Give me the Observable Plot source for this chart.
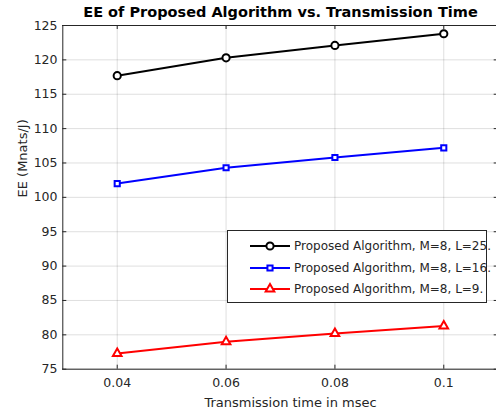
<!DOCTYPE html>
<html>
<head>
<meta charset="utf-8">
<script src="https://cdn.jsdelivr.net/npm/d3@7"></script>
<script src="https://cdn.jsdelivr.net/npm/@observablehq/plot@0.6"></script>
<style>
  html, body { margin: 0; padding: 0; background: #fff; }
  #wrap { position: relative; width: 496px; height: 413px; overflow: hidden; font-family: "DejaVu Sans", sans-serif; }
  #legend { position: absolute; left: 227px; top: 230px; width: 258px; height: 71px; border: 1px solid #262626; background: #fff; box-sizing: content-box; }
  .row { position: absolute; left: 0; height: 20px; display: flex; align-items: center; font-size: 12px; color: #262626; white-space: nowrap; }
  .row svg { margin-left: 22px; margin-right: 4px; }
</style>
</head>
<body>
<div id="wrap"><div id="chart"></div><div id="legend"></div></div>
<script>
const times = [0.04, 0.06, 0.08, 0.1];
const seriesNames = ["Proposed Algorithm, M=8, L=25.", "Proposed Algorithm, M=8, L=16.", "Proposed Algorithm, M=8, L=9."];
const eeL25 = [117.7, 120.3, 122.1, 123.8];
const eeL16 = [102.0, 104.3, 105.8, 107.2];
const eeL9 = [77.3, 79.0, 80.2, 81.3];
const xTicks = [0.04, 0.06, 0.08, 0.1];
const yTicks = [75, 80, 85, 90, 95, 100, 105, 110, 115, 120, 125];
const colors = ["#000000", "#0000ff", "#ff0000"];
const symbols = ["circle", "square", "triangle"];
const radii = [3.6, 2.9, 3.2];

const seriesValues = [eeL25, eeL16, eeL9];
const data = [];
seriesValues.forEach((vals, s) => vals.forEach((v, i) => data.push({t: times[i], ee: v, s})));

const axisColor = "#262626";
const marks = [
  Plot.gridX(xTicks, {stroke: "#000", strokeOpacity: 0.13}),
  Plot.gridY(yTicks, {stroke: "#000", strokeOpacity: 0.13}),
  // box
  Plot.ruleX([0.03, 0.11], {stroke: axisColor, strokeWidth: 1}),
  Plot.ruleY([75, 125], {stroke: axisColor, strokeWidth: 1}),
  // inward ticks
  Plot.ruleX(xTicks, {y1: 75, y2: 75, insetTop: -4, stroke: axisColor}),
  Plot.ruleX(xTicks, {y1: 125, y2: 125, insetBottom: -4, stroke: axisColor}),
  Plot.ruleY(yTicks, {x1: 0.03, x2: 0.03, insetRight: -4, stroke: axisColor}),
  Plot.ruleY(yTicks, {x1: 0.11, x2: 0.11, insetLeft: -4, stroke: axisColor}),
  Plot.axisX(xTicks, {tickSize: 0, tickPadding: 9, tickFormat: d => String(d), fontSize: 12.5, color: axisColor, label: null}),
  Plot.axisY(yTicks, {tickSize: 0, tickPadding: 5, tickFormat: d => String(d), fontSize: 12.5, color: axisColor, label: null}),
];
seriesValues.forEach((vals, s) => {
  const d = data.filter(o => o.s === s);
  marks.push(Plot.line(d, {x: "t", y: "ee", stroke: colors[s], strokeWidth: 2}));
  marks.push(Plot.dot(d, {x: "t", y: "ee", symbol: () => symbols[s], r: radii[s], stroke: colors[s], fill: "#fff", strokeWidth: 2}));
});
marks.push(Plot.text(["EE of Proposed Algorithm vs. Transmission Time"], {frameAnchor: "top", text: d => d, dy: -13, dx: 1, fontWeight: "bold", fontSize: 14.5, fill: "#000", lineAnchor: "middle"}));
marks.push(Plot.text(["Transmission time in msec"], {frameAnchor: "bottom", text: d => d, dy: 33, dx: 11, fontSize: 13, fill: axisColor, lineAnchor: "middle"}));
marks.push(Plot.text(["EE (Mnats/J)"], {frameAnchor: "left", text: d => d, dx: -40, rotate: -90, fontSize: 13, fill: axisColor, lineAnchor: "middle"}));

const chart = Plot.plot({
  width: 496,
  height: 413,
  marginLeft: 62,
  marginRight: 0,
  marginTop: 25,
  marginBottom: 44,
  style: {fontFamily: "DejaVu Sans, sans-serif", background: "#fff", overflow: "hidden"},
  x: {domain: [0.03, 0.11], range: [62.3, 497.7]},
  y: {domain: [75, 125], range: [368.7, 25]},
  symbol: {type: "identity"},
  marks
});
document.getElementById("chart").appendChild(chart);

// legend
const legend = document.getElementById("legend");
const rowTops = [5, 27, 48];
seriesNames.forEach((name, s) => {
  const row = document.createElement("div");
  row.className = "row";
  row.style.top = rowTops[s] + "px";
  const sym = d3.symbol(d3["symbol" + symbols[s][0].toUpperCase() + symbols[s].slice(1)], radii[s] * radii[s] * Math.PI)();
  row.innerHTML = `<svg width="40" height="20"><line x1="0" x2="40" y1="10" y2="10" stroke="${colors[s]}" stroke-width="2"/><path d="${sym}" transform="translate(20,10)" fill="#fff" stroke="${colors[s]}" stroke-width="2"/></svg><span>${name}</span>`;
  legend.appendChild(row);
});
</script>
</body>
</html>
